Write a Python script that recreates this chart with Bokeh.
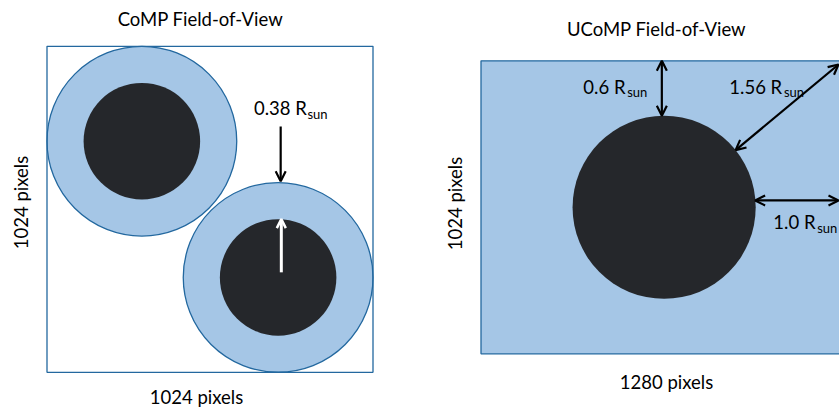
import math
from bokeh.plotting import figure
from bokeh.models import Range1d, Arrow, OpenHead
from bokeh.core.properties import value
from bokeh.embed import file_html
from bokeh.resources import INLINE

# ---------------- data ----------------
# CoMP detector (pixels) and its two sub-fields
comp_width = 1024
comp_height = 1024
comp_center_x = [298, 726]
comp_center_y = [726, 298]
comp_fov_radius = 298
comp_occ_radius = 183
comp_shift_x = [734, 736]          # black arrow, white arrow
comp_shift_y0 = [772, 314]
comp_shift_y1 = [600, 481]

# UCoMP detector (pixels)
ucomp_width = 1280
ucomp_height = 1024
ucomp_center = [640, 512]
ucomp_radius = 320  # 1 R_sun

titles = ["CoMP Field-of-View", "UCoMP Field-of-View"]
axis_texts = ["1024 pixels", "1024 pixels", "1280 pixels"]
dist_labels = ["0.38 R", "0.6 R", "1.56 R", "1.0 R"]
sub_text = "sun"

# ---------------- styles / layout ----------------
W, H = 839, 410
FONT = value("Lato")
MAIN = "18.5px"
SUB = "13px"
LIGHT = "#a5c6e6"
EDGE = "#23689f"
DARK = "#25272b"
SHIFT = -6   # screen px correction of text baseline

s1 = 326 / 1024            # screen px per CoMP pixel
ox1, oy1 = 46.5, 45.8       # box top-left inside the canvas
s2 = 293 / 1024            # screen px per UCoMP pixel
ox2, oy2 = 480.5, 60.3

x0 = -ox1 / s1
y1 = comp_height + oy1 / s1
ux0 = -ox2 / s2
uy1 = ucomp_height + oy2 / s2

p = figure(width=W, height=H, output_backend="svg", toolbar_location=None,
           x_range=Range1d(x0, x0 + W / s1), y_range=Range1d(y1 - H / s1, y1),
           x_axis_location=None, y_axis_location=None, min_border=0,
           outline_line_color=None, background_fill_color="white")
p.extra_x_ranges = {"ux": Range1d(ux0, ux0 + W / s2)}
p.extra_y_ranges = {"uy": Range1d(uy1 - H / s2, uy1)}
p.grid.visible = False

# ---- CoMP panel ----
for cx, cy in zip(comp_center_x, comp_center_y):
    p.circle(x=[cx], y=[cy], radius=comp_fov_radius, fill_color=LIGHT,
             line_color=EDGE, line_width=1.3)
    p.circle(x=[cx], y=[cy], radius=comp_occ_radius, fill_color=DARK,
             line_color=None)
p.quad(left=[0], right=[comp_width], bottom=[0], top=[comp_height],
       fill_color=None, line_color=EDGE, line_width=1.3)

p.add_layout(Arrow(x_start=comp_shift_x[0], y_start=comp_shift_y0[0],
                   x_end=comp_shift_x[0], y_end=comp_shift_y1[0],
                   line_color="black", line_width=2.2,
                   end=OpenHead(size=10, line_width=2.2, line_color="black")))
p.add_layout(Arrow(x_start=comp_shift_x[1], y_start=comp_shift_y0[1],
                   x_end=comp_shift_x[1], y_end=comp_shift_y1[1],
                   line_color="white", line_width=3,
                   end=OpenHead(size=9, line_width=2.5, line_color="white")))

# ---- UCoMP panel ----
p.quad(left=[0], right=[ucomp_width], bottom=[0], top=[ucomp_height],
       fill_color=LIGHT, line_color=EDGE, line_width=1.3,
       x_range_name="ux", y_range_name="uy")
p.circle(x=[ucomp_center[0]], y=[ucomp_center[1]], radius=ucomp_radius,
         fill_color=DARK, line_color=None, x_range_name="ux", y_range_name="uy")

cxu, cyu = ucomp_center
r = ucomp_radius
diag = math.hypot(ucomp_width - cxu, ucomp_height - cyu)
dx, dy = (ucomp_width - cxu) / diag, (ucomp_height - cyu) / diag
vis_right = ux0 + (W - 1) / s2
arrows_u = [
    (cxu - 8, cyu + r, cxu - 8, ucomp_height),
    (cxu + r * dx, cyu + r * dy, vis_right, ucomp_height - 13),
    (cxu + r - 2, 536, vis_right, 536),
]
for xs, ys, xe, ye in arrows_u:
    p.add_layout(Arrow(x_start=xs, y_start=ys, x_end=xe, y_end=ye,
                       x_range_name="ux", y_range_name="uy",
                       line_color="black", line_width=2.2,
                       start=OpenHead(size=10, line_width=2.2, line_color="black"),
                       end=OpenHead(size=10, line_width=2.2, line_color="black")))

# ---- texts ----
def txt(x, y, t, size=MAIN, align="center", angle=0.0, xr="default", yr="default"):
    rotated = angle != 0.0
    p.text(x=[x], y=[y], text=[t], text_font=FONT, text_font_size=size,
           text_color="black", text_align=align, text_baseline="alphabetic",
           angle=angle, x_range_name=xr, y_range_name=yr,
           x_offset=SHIFT if rotated else 0, y_offset=0 if rotated else SHIFT)

U = dict(xr="ux", yr="uy")
txt(482, 1090, titles[0])
txt(613.4, 1114.9, titles[1], **U)
txt(-61.3, 533.4, axis_texts[0], angle=math.pi / 2)
txt(-71.6, 525.3, axis_texts[1], angle=math.pi / 2, **U)
txt(469.6, -97.5, axis_texts[0])
txt(648.3, -119.5, axis_texts[2], **U)

# distance labels: main part right-aligned, subscript left-aligned
txt(816, 812, dist_labels[0], align="right")
txt(818, 791, sub_text, size=SUB, align="left")
for (xe, yb, ys), lab in zip([(505, 910.8, 894), (1052.7, 910.8, 894), (1169, 439, 419.4)],
                             dist_labels[1:]):
    txt(xe, yb, lab, align="right", **U)
    txt(xe + 6, ys, sub_text, size=SUB, align="left", **U)

open("out.html", "w").write(file_html(p, INLINE))
